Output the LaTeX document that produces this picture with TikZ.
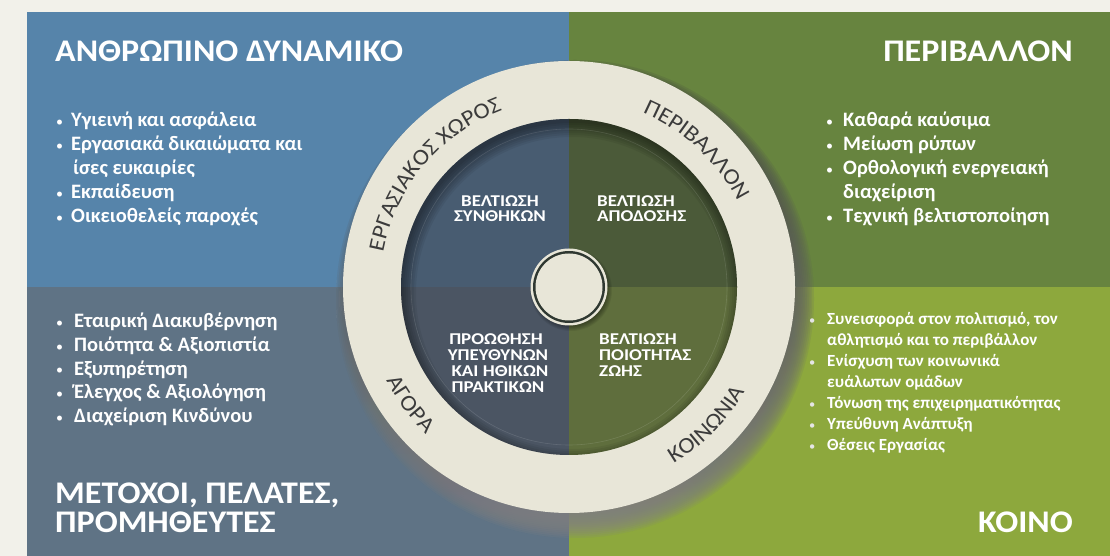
\documentclass[tikz,border=0pt]{standalone}
\usepackage{fontspec}
\setmainfont{Carlito}
\newfontfamily\wide[FakeStretch=1.08]{Carlito}
\newfontfamily\wider[FakeStretch=1.15]{Carlito}
\usetikzlibrary{decorations.text,calc}
\definecolor{bg}{HTML}{F2F1EA}
\definecolor{qtl}{HTML}{5684AA}
\definecolor{qtr}{HTML}{67843F}
\definecolor{qbl}{HTML}{5F7385}
\definecolor{qbr}{HTML}{8DA83D}
\definecolor{itl}{HTML}{485C71}
\definecolor{itr}{HTML}{4B5A39}
\definecolor{ibl}{HTML}{4B5563}
\definecolor{ibr}{HTML}{5F6E3D}
\definecolor{cream}{HTML}{E8E6D8}
\definecolor{ringtxt}{HTML}{3B3B3B}
\definecolor{darkring}{HTML}{2F3831}
\definecolor{shade}{HTML}{10180A}
\tikzset{
  ttl/.style={text=white, font=\wide\fontsize{31.5}{31.5}\selectfont\bfseries, inner sep=0pt},
  bl/.style={text=white, font=\fontsize{20.5}{24}\selectfont\bfseries, inner sep=0pt, anchor=base west},
  bs/.style={text=white, font=\fontsize{17}{21}\selectfont\bfseries, inner sep=0pt, anchor=base west},
  bul/.style={text=white, font=\fontsize{14}{14}\selectfont, inner sep=0pt, anchor=base west},
  buls/.style={text=white!90!black, font=\fontsize{12.5}{12.5}\selectfont, inner sep=0pt, anchor=base west},
  lab/.style={text=white, font=\wider\fontsize{16.5}{16.5}\selectfont\bfseries, inner sep=0pt},
  ringtext/.style={decorate, decoration={text along path, text align=center, text color=ringtxt, text={|\wide\fontsize{22.5}{22.5}\selectfont|#1}}}
}
\begin{document}
\begin{tikzpicture}[x=1pt,y=1pt]
\useasboundingbox (0,0) rectangle (1110,556);
\fill[bg] (0,0) rectangle (1110,556);
\fill[qtl] (27,269) rectangle (569,544);
\fill[qtr] (569,269) rectangle (1110,544);
\fill[qbl] (27,0) rectangle (569,269);
\fill[qbr] (569,0) rectangle (1110,269);
\coordinate (C) at (569,269);

% shadow of ring
\begin{scope}
  \clip (27,0) rectangle (1110,544);
  \foreach \k in {0,...,15}
    \fill[shade, opacity=0.085] ($(C)+(6,-12)$) circle ({212+1.8*\k});
\end{scope}
% ring
\fill[cream] (C) circle (226);
% inner disc
\begin{scope}
  \clip (C) circle (168);
  \fill[itl] (C) rectangle ++(-170,170);
  \fill[itr] (C) rectangle ++(170,170);
  \fill[ibl] (C) rectangle ++(-170,-170);
  \fill[ibr] (C) rectangle ++(170,-170);
  \foreach \k in {1,...,8}
    \fill[black, opacity=0.06, even odd rule] (C) circle (172) ($(C)+(3,-6)$) circle ({172-2*\k});
\end{scope}
\draw[white, opacity=0.12, line width=0.6pt] (C) circle (158);

% centre circle
\foreach \k in {0,...,5}
  \fill[black, opacity=0.07] ($(C)+(2,-3)$) circle ({36+\k});
\fill[cream] (C) circle (38.5);
\fill[darkring] (C) circle (36);
\fill[cream] (C) circle (33.5);

% ring labels
\path[ringtext={ΕΡΓΑΣΙΑΚΟΣ ΧΩΡΟΣ}] ($(C)+(178:189)$) arc (178:102:189);
\path[ringtext={ΠΕΡΙΒΑΛΛΟΝ}] ($(C)+(80:189)$) arc (80:14:189);
\path[ringtext={ΑΓΟΡΑ}] ($(C)+(190:205)$) arc (190:243:205);
\path[ringtext={ΚΟΙΝΩΝΙΑ}] ($(C)+(285:205)$) arc (285:345:205);

% inner labels
\node[lab, anchor=base] (s1) at (500,349) {ΒΕΛΤΙΩΣΗ};
\node[lab, anchor=base] (s2) at (500,334) {ΣΥΝΘΗΚΩΝ};
\node[lab, anchor=base west] (a1) at (597,349) {ΒΕΛΤΙΩΣΗ};
\node[lab, anchor=base west] (a2) at (597,334) {ΑΠΟΔΟΣΗΣ};
\node[lab, anchor=base] (p1) at (496,211) {ΠΡΟΩΘΗΣΗ};
\node[lab, anchor=base] (p2) at (498,195) {ΥΠΕΥΘΥΝΩΝ};
\node[lab, anchor=base] (p3) at (500,179) {ΚΑΙ ΗΘΙΚΩΝ};
\node[lab, anchor=base] (p4) at (498,163) {ΠΡΑΚΤΙΚΩΝ};
\node[lab, anchor=base west] (z1) at (599,211) {ΒΕΛΤΙΩΣΗ};
\node[lab, anchor=base west] (z2) at (599,195) {ΠΟΙΟΤΗΤΑΣ};
\node[lab, anchor=base west] (z3) at (599,179) {ΖΩΗΣ};

% titles
\node[ttl, anchor=base west] (t1) at (55,494) {ΑΝΘΡΩΠΙΝΟ ΔΥΝΑΜΙΚΟ};
\node[ttl, anchor=base east] (t2) at (1073,494) {ΠΕΡΙΒΑΛΛΟΝ};
\node[ttl, anchor=base west] (t3) at (55,52) {ΜΕΤΟΧΟΙ, ΠΕΛΑΤΕΣ,};
\node[ttl, anchor=base west] (t4) at (55,23) {ΠΡΟΜΗΘΕΥΤΕΣ};
\node[ttl, anchor=base east] (t5) at (1073,23) {ΚΟΙΝΟ};

% top-left list
\node[bul] (tlb1) at (56,429.5) {•}; \node[bl] (tl1) at (71,429) {Υγιεινή και ασφάλεια};
\node[bul] (tlb2) at (56,405.5) {•}; \node[bl] (tl2) at (71,405) {Εργασιακά δικαιώματα και};
\node[bl] (tl3) at (73,381) {ίσες ευκαιρίες};
\node[bul] (tlb4) at (56,357.5) {•}; \node[bl] (tl4) at (71,357) {Εκπαίδευση};
\node[bul] (tlb5) at (56,333.5) {•}; \node[bl] (tl5) at (71,333) {Οικειοθελείς παροχές};

% top-right list
\node[bul] (trb1) at (826,429.5) {•}; \node[bl] (tr1) at (843,429) {Καθαρά καύσιμα};
\node[bul] (trb2) at (826,405.5) {•}; \node[bl] (tr2) at (843,405) {Μείωση ρύπων};
\node[bul] (trb3) at (826,381.5) {•}; \node[bl] (tr3) at (843,381) {Ορθολογική ενεργειακή};
\node[bl] (tr4) at (843,357) {διαχείριση};
\node[bul] (trb5) at (826,333.5) {•}; \node[bl] (tr5) at (843,333) {Τεχνική βελτιστοποίηση};

% bottom-left list
\node[bul] (blb1) at (56,228.5) {•}; \node[bl] (bl1) at (74,228) {Εταιρική Διακυβέρνηση};
\node[bul] (blb2) at (56,204.5) {•}; \node[bl] (bl2) at (74,204) {Ποιότητα \& Αξιοπιστία};
\node[bul] (blb3) at (56,181) {•}; \node[bl] (bl3) at (74,180.5) {Εξυπηρέτηση};
\node[bul] (blb4) at (56,157.5) {•}; \node[bl] (bl4) at (74,157) {Έλεγχος \& Αξιολόγηση};
\node[bul] (blb5) at (56,133.5) {•}; \node[bl] (bl5) at (74,133) {Διαχείριση Κινδύνου};

% bottom-right list
\node[buls] (brb1) at (809,231.5) {•}; \node[bs] (br1) at (827,231) {Συνεισφορά στον πολιτισμό, τον};
\node[bs] (br2) at (827,210) {αθλητισμό και το περιβάλλον};
\node[buls] (brb3) at (809,189.5) {•}; \node[bs] (br3) at (827,189) {Ενίσχυση των κοινωνικά};
\node[bs] (br4) at (827,168) {ευάλωτων ομάδων};
\node[buls] (brb5) at (809,147.5) {•}; \node[bs] (br5) at (827,147) {Τόνωση της επιχειρηματικότητας};
\node[buls] (brb6) at (809,126.5) {•}; \node[bs] (br6) at (827,126) {Υπεύθυνη Ανάπτυξη};
\node[buls] (brb7) at (809,105.5) {•}; \node[bs] (br7) at (827,105) {Θέσεις Εργασίας};
\end{tikzpicture}
\end{document}
